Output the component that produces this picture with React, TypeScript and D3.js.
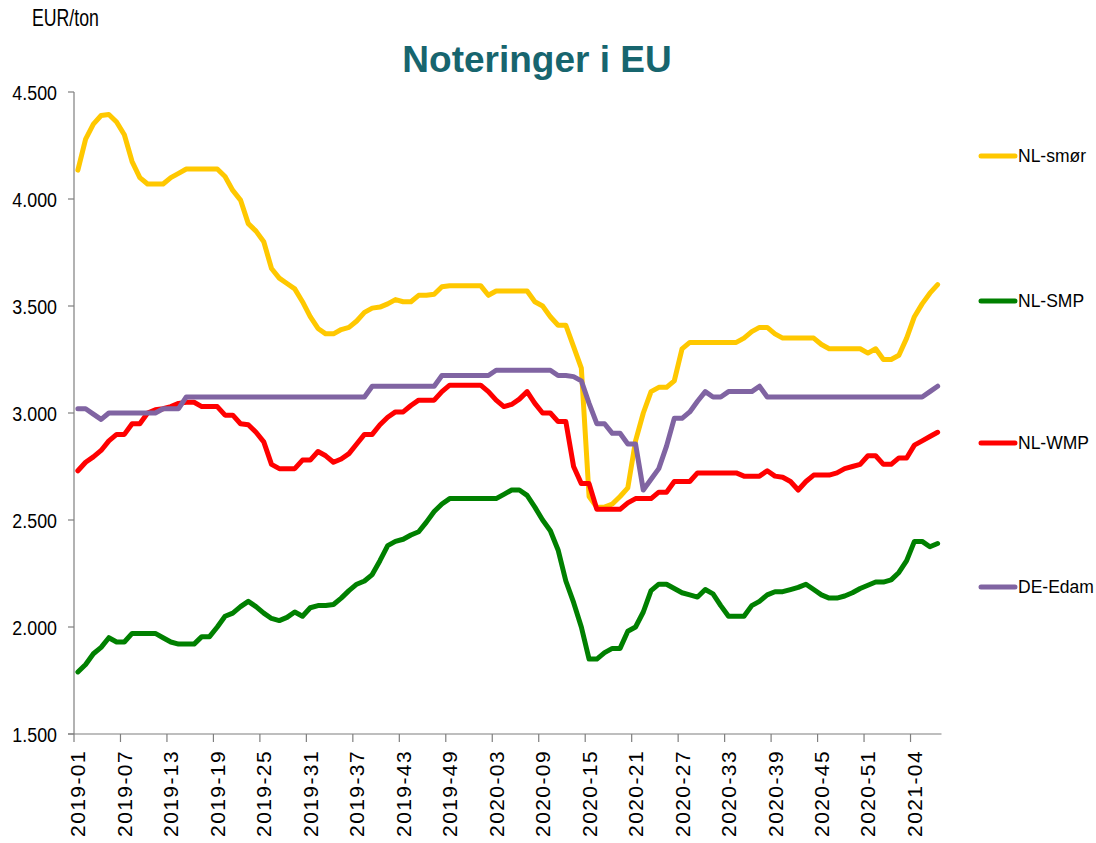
import React from "react";
import * as d3 from "d3";

// ---- Data ----
const years: [string, number][] = [["2019", 52], ["2020", 53], ["2021", 7]];
const weeks: string[] = [];
years.forEach(([y, n]) => {
  for (let w = 1; w <= n; w++) weeks.push(`${y}-${String(w).padStart(2, "0")}`);
});

const tickWeeks = [
  "2019-01", "2019-07", "2019-13", "2019-19", "2019-25", "2019-31", "2019-37", "2019-43", "2019-49",
  "2020-03", "2020-09", "2020-15", "2020-21", "2020-27", "2020-33", "2020-39", "2020-45", "2020-51", "2021-04",
];

const yTicks = [1500, 2000, 2500, 3000, 3500, 4000, 4500];

const nlSmor = [
  4135, 4280, 4350, 4390, 4395, 4360, 4300, 4175, 4100, 4070,
  4070, 4070, 4100, 4120, 4140, 4140, 4140, 4140, 4140, 4105,
  4040, 3995, 3885, 3850, 3800, 3675, 3630, 3605, 3580, 3520,
  3450, 3395, 3370, 3370, 3390, 3400, 3430, 3470, 3490, 3495,
  3510, 3530, 3520, 3520, 3550, 3550, 3555, 3590, 3595, 3595,
  3595, 3595, 3595, 3550, 3570, 3570, 3570, 3570, 3570, 3520,
  3500, 3450, 3410, 3410, 3310, 3210, 2610, 2560, 2560, 2575,
  2610, 2650, 2870, 3000, 3100, 3120, 3120, 3150, 3300, 3330,
  3330, 3330, 3330, 3330, 3330, 3330, 3350, 3380, 3400, 3400,
  3370, 3350, 3350, 3350, 3350, 3350, 3320, 3300, 3300, 3300,
  3300, 3300, 3280, 3300, 3250, 3250, 3270, 3350, 3450, 3510,
  3560, 3600,
];

const nlSmp = [
  1790, 1825, 1875, 1905, 1950, 1930, 1930, 1970, 1970, 1970,
  1970, 1950, 1930, 1920, 1920, 1920, 1955, 1955, 2000, 2050,
  2065, 2095, 2120, 2095, 2065, 2040, 2030, 2045, 2070, 2050,
  2090, 2100, 2100, 2105, 2135, 2170, 2200, 2215, 2245, 2310,
  2380, 2400, 2410, 2430, 2445, 2490, 2540, 2575, 2600, 2600,
  2600, 2600, 2600, 2600, 2600, 2620, 2640, 2640, 2615, 2560,
  2500, 2450, 2360, 2215, 2115, 2000, 1850, 1850, 1880, 1900,
  1900, 1980, 2000, 2070, 2170, 2200, 2200, 2180, 2160, 2150,
  2140, 2175, 2155, 2100, 2050, 2050, 2050, 2100, 2120, 2150,
  2165, 2165, 2175, 2185, 2200, 2175, 2150, 2135, 2135, 2145,
  2160, 2180, 2195, 2210, 2210, 2220, 2255, 2310, 2400, 2400,
  2375, 2390,
];

const nlWmp = [
  2730, 2770, 2795, 2825, 2870, 2900, 2900, 2950, 2950, 3000,
  3015, 3020, 3030, 3045, 3050, 3050, 3030, 3030, 3030, 2990,
  2990, 2950, 2945, 2910, 2865, 2760, 2740, 2740, 2740, 2780,
  2780, 2820, 2800, 2770, 2785, 2810, 2855, 2900, 2900, 2945,
  2980, 3005, 3005, 3035, 3060, 3060, 3060, 3100, 3130, 3130,
  3130, 3130, 3130, 3100, 3060, 3030, 3040, 3065, 3100, 3045,
  3000, 3000, 2960, 2960, 2750, 2670, 2670, 2550, 2550, 2550,
  2550, 2580, 2600, 2600, 2600, 2630, 2630, 2680, 2680, 2680,
  2720, 2720, 2720, 2720, 2720, 2720, 2705, 2705, 2705, 2730,
  2705, 2700, 2680, 2640, 2680, 2710, 2710, 2710, 2720, 2740,
  2750, 2760, 2800, 2800, 2760, 2760, 2790, 2790, 2850, 2870,
  2890, 2910,
];

const deEdam = [
  3020, 3020, 2995, 2970, 3000, 3000, 3000, 3000, 3000, 3000,
  3000, 3020, 3020, 3020, 3075, 3075, 3075, 3075, 3075, 3075,
  3075, 3075, 3075, 3075, 3075, 3075, 3075, 3075, 3075, 3075,
  3075, 3075, 3075, 3075, 3075, 3075, 3075, 3075, 3125, 3125,
  3125, 3125, 3125, 3125, 3125, 3125, 3125, 3175, 3175, 3175,
  3175, 3175, 3175, 3175, 3200, 3200, 3200, 3200, 3200, 3200,
  3200, 3200, 3175, 3175, 3170, 3150, 3045, 2950, 2950, 2905,
  2905, 2855, 2855, 2640, 2690, 2740, 2845, 2975, 2975, 3005,
  3055, 3100, 3075, 3075, 3100, 3100, 3100, 3100, 3125, 3075,
  3075, 3075, 3075, 3075, 3075, 3075, 3075, 3075, 3075, 3075,
  3075, 3075, 3075, 3075, 3075, 3075, 3075, 3075, 3075, 3075,
  3100, 3125,
];

const seriesNames = ["NL-smør", "NL-SMP", "NL-WMP", "DE-Edam"];
const seriesColors = ["#FFC800", "#008000", "#FF0000", "#8064A2"];
const seriesValues = [nlSmor, nlSmp, nlWmp, deEdam];
const legendY = [156, 301, 443, 587];

// ---- Layout ----
const W = 1096;
const H = 843;
const plotLeft = 74;
const plotRight = 941.5;
const plotTop = 92;
const plotBottom = 734;

const fmt = d3.formatLocale({ decimal: ",", thousands: ".", grouping: [3], currency: ["", ""] }).format(",.0f");

export default function App() {
  const x = d3.scaleBand<string>().domain(weeks).range([plotLeft, plotRight]).padding(0);
  const y = d3.scaleLinear().domain([1500, 4500]).range([plotBottom, plotTop]);
  const bw = x.bandwidth();
  const cx = (w: string) => (x(w) as number) + bw / 2;

  const line = d3
    .line<number>()
    .x((_, i) => cx(weeks[i]))
    .y((v) => y(v));

  const axisColor = "#7f7f7f";
  const font = "'Liberation Sans', Arial, sans-serif";

  return (
    <svg width={W} height={H} style={{ position: "absolute", left: 0, top: 0, background: "#fff" }} fontFamily={font}>
      <rect x={0} y={0} width={W} height={H} fill="#fff" />
      {/* Title */}
      <text x={537} y={72} textAnchor="middle" fontSize={37} fontWeight="bold" fill="#17656E">
        Noteringer i EU
      </text>
      {/* Unit */}
      <text transform={`translate(32,26) scale(0.77,1)`} fontSize={23} fill="#000">
        EUR/ton
      </text>

      {/* Y axis */}
      <line x1={plotLeft} x2={plotLeft} y1={plotTop} y2={plotBottom} stroke={axisColor} strokeWidth={1.2} />
      {yTicks.map((t) => (
        <g key={t}>
          <line x1={plotLeft - 6} x2={plotLeft} y1={y(t)} y2={y(t)} stroke={axisColor} strokeWidth={1.2} />
          <text
            transform={`translate(57,${y(t)}) scale(0.85,1)`}
            textAnchor="end"
            dy="0.36em"
            fontSize={21}
            fill="#000"
          >
            {fmt(t)}
          </text>
        </g>
      ))}

      {/* X axis */}
      <line x1={plotLeft - 6} x2={plotRight} y1={plotBottom} y2={plotBottom} stroke={axisColor} strokeWidth={1.2} />
      {tickWeeks.map((w) => (
        <g key={w}>
          <line
            x1={x(w) as number}
            x2={x(w) as number}
            y1={plotBottom}
            y2={plotBottom + 8}
            stroke={axisColor}
            strokeWidth={1.2}
          />
          <text
            transform={`translate(${cx(w)},750) rotate(-90)`}
            textAnchor="end"
            dy="0.36em"
            fontSize={21}
            letterSpacing={1.4}
            fill="#000"
          >
            {w}
          </text>
        </g>
      ))}

      {/* Lines */}
      {seriesValues.map((vals, k) => (
        <path
          key={seriesNames[k]}
          d={line(vals) || ""}
          fill="none"
          stroke={seriesColors[k]}
          strokeWidth={5}
          strokeLinejoin="round"
          strokeLinecap="round"
        />
      ))}

      {/* Legend */}
      {seriesNames.map((name, k) => (
        <g key={name}>
          <line
            x1={981}
            x2={1015}
            y1={legendY[k]}
            y2={legendY[k]}
            stroke={seriesColors[k]}
            strokeWidth={5}
            strokeLinecap="round"
          />
          <text x={1018} y={legendY[k]} dy="0.36em" fontSize={17.5} fill="#000">
            {name}
          </text>
        </g>
      ))}
    </svg>
  );
}
